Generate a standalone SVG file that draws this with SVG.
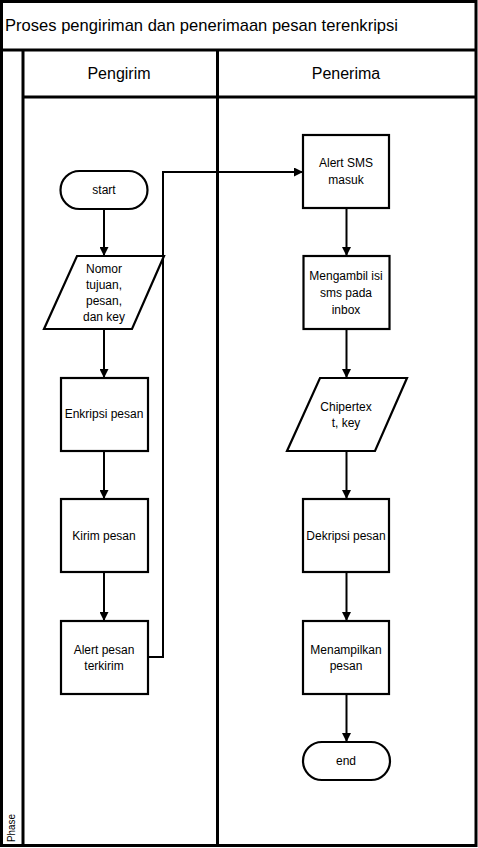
<svg xmlns="http://www.w3.org/2000/svg" width="478" height="848" viewBox="0 0 478 848">
  <style>
    .frame { fill: #ffffff; stroke: #000; stroke-width: 3; }
    .lane { fill: none; stroke: #000; stroke-width: 3; }
    .shape { fill: #ffffff; stroke: #000; stroke-width: 2.2; }
    .edge { fill: none; stroke: #000; stroke-width: 2; }
    text { font-family: "Liberation Sans", Arial, sans-serif; fill: #000; }
    .title { font-size: 17px; }
    .head { font-size: 16px; text-anchor: middle; }
    .lbl { font-size: 12px; text-anchor: middle; }
    .phase { font-size: 11px; }
  </style>
  <defs>
    <marker id="arrow" viewBox="0 0 10 10" refX="10" refY="5" markerWidth="4.5" markerHeight="4.5" orient="auto" markerUnits="strokeWidth">
      <path d="M0,0 L10,5 L0,10 z" fill="#000"/>
    </marker>
  </defs>

  <!-- pool frame -->
  <g id="pool">
    <rect class="frame" x="1.5" y="1.5" width="474.5" height="844"/>
    <line class="lane" x1="1.5" y1="50" x2="476" y2="50"/>
    <line class="lane" x1="23" y1="50" x2="23" y2="846"/>
    <line class="lane" x1="23" y1="97" x2="476" y2="97"/>
    <line class="lane" x1="217.5" y1="50" x2="217.5" y2="846"/>
    <text class="title" x="5" y="31" textLength="393" lengthAdjust="spacingAndGlyphs">Proses pengiriman dan penerimaan pesan terenkripsi</text>
    <text class="head" x="119" y="79">Pengirim</text>
    <text class="head" x="346" y="79">Penerima</text>
    <text class="phase" transform="translate(15,842) rotate(-90)" textLength="28" lengthAdjust="spacingAndGlyphs">Phase</text>
  </g>

  <!-- connectors -->
  <g id="connectors">
    <line class="edge" x1="104" y1="209" x2="104" y2="256" marker-end="url(#arrow)"/>
    <line class="edge" x1="104" y1="329" x2="104" y2="378" marker-end="url(#arrow)"/>
    <line class="edge" x1="104" y1="451" x2="104" y2="499" marker-end="url(#arrow)"/>
    <line class="edge" x1="104" y1="572" x2="104" y2="621" marker-end="url(#arrow)"/>
    <polyline class="edge" points="148,657 163,657 163,172 303,172" marker-end="url(#arrow)"/>
    <line class="edge" x1="346.5" y1="208" x2="346.5" y2="256" marker-end="url(#arrow)"/>
    <line class="edge" x1="346.5" y1="329" x2="346.5" y2="378" marker-end="url(#arrow)"/>
    <line class="edge" x1="346.5" y1="451" x2="346.5" y2="499" marker-end="url(#arrow)"/>
    <line class="edge" x1="346.5" y1="572" x2="346.5" y2="621" marker-end="url(#arrow)"/>
    <line class="edge" x1="346.5" y1="694" x2="346.5" y2="742" marker-end="url(#arrow)"/>
  </g>

  <!-- sender lane -->
  <g id="start">
    <rect class="shape" x="60.5" y="171" width="87" height="38" rx="19"/>
    <text class="lbl" x="104" y="194">start</text>
  </g>
  <g id="input-message">
    <polygon class="shape" points="77,256 164,256 132,329 44,329"/>
    <text class="lbl" x="104" y="273">Nomor</text>
    <text class="lbl" x="104" y="289">tujuan,</text>
    <text class="lbl" x="104" y="305">pesan,</text>
    <text class="lbl" x="104" y="321">dan key</text>
  </g>
  <g id="encrypt">
    <rect class="shape" x="61" y="378" width="87" height="73"/>
    <text class="lbl" x="104" y="418">Enkripsi pesan</text>
  </g>
  <g id="send">
    <rect class="shape" x="61" y="499" width="87" height="73"/>
    <text class="lbl" x="104" y="540">Kirim pesan</text>
  </g>
  <g id="sent-alert">
    <rect class="shape" x="61" y="621" width="87" height="73"/>
    <text class="lbl" x="104" y="654">Alert pesan</text>
    <text class="lbl" x="104" y="670">terkirim</text>
  </g>

  <!-- receiver lane -->
  <g id="sms-alert">
    <rect class="shape" x="303" y="135" width="86" height="73"/>
    <text class="lbl" x="346" y="167">Alert SMS</text>
    <text class="lbl" x="346" y="184">masuk</text>
  </g>
  <g id="read-inbox">
    <rect class="shape" x="303.5" y="256" width="86" height="73"/>
    <text class="lbl" x="346" y="280">Mengambil isi</text>
    <text class="lbl" x="346" y="297">sms pada</text>
    <text class="lbl" x="346" y="314">inbox</text>
  </g>
  <g id="ciphertext">
    <polygon class="shape" points="320,378 407,378 375,451 287,451"/>
    <text class="lbl" x="346" y="411">Chipertex</text>
    <text class="lbl" x="346" y="427">t, key</text>
  </g>
  <g id="decrypt">
    <rect class="shape" x="303" y="499" width="86" height="73"/>
    <text class="lbl" x="346" y="540">Dekripsi pesan</text>
  </g>
  <g id="show">
    <rect class="shape" x="303" y="621" width="86" height="73"/>
    <text class="lbl" x="346" y="654">Menampilkan</text>
    <text class="lbl" x="346" y="670">pesan</text>
  </g>
  <g id="end">
    <rect class="shape" x="303" y="742" width="87" height="38" rx="19"/>
    <text class="lbl" x="346" y="765">end</text>
  </g>
</svg>
